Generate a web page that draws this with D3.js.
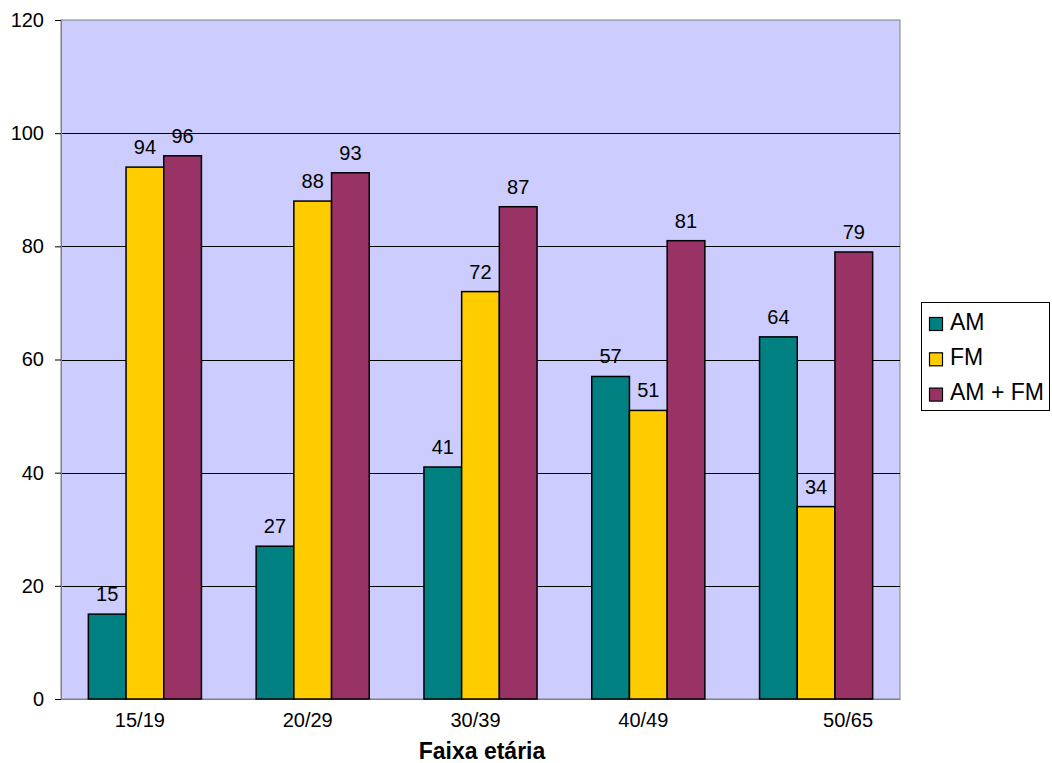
<!DOCTYPE html>
<html>
<head>
<meta charset="utf-8">
<script src="https://cdn.jsdelivr.net/npm/d3@7"></script>
<style>
  body { margin: 0; background: #fff; }
  text { font-family: "Liberation Sans", Arial, sans-serif; }
</style>
</head>
<body>
<div id="chart"></div>
<script>
// data
const categories = ["15/19", "20/29", "30/39", "40/49", "50/65"];
const seriesNames = ["AM", "FM", "AM + FM"];
const amValues = [15, 27, 41, 57, 64];
const fmValues = [94, 88, 72, 51, 34];
const amFmValues = [96, 93, 87, 81, 79];
const yTicks = [0, 20, 40, 60, 80, 100, 120];
const colors = ["#008080", "#FFCC00", "#993366"];

const allSeries = [amValues, fmValues, amFmValues];

const W = 1052, H = 763;
const plot = { left: 61, right: 900, top: 20, bottom: 699 };

const svg = d3.select("#chart")
  .append("svg")
  .attr("width", W)
  .attr("height", H);

const x = d3.scaleBand()
  .domain(categories)
  .range([plot.left, plot.right])
  .padding(0);

const bw = x.bandwidth();
const xSub = d3.scaleBand()
  .domain(seriesNames)
  .range([bw * 0.163, bw * 0.837])
  .padding(0);

const y = d3.scaleLinear()
  .domain([0, 120])
  .range([plot.bottom, plot.top]);

// plot background
svg.append("rect")
  .attr("x", plot.left)
  .attr("y", plot.top)
  .attr("width", plot.right - plot.left)
  .attr("height", plot.bottom - plot.top)
  .attr("fill", "#CCCCFF")
  .attr("stroke", "#808080")
  .attr("stroke-width", 1);

// grid lines
svg.append("g")
  .selectAll("line")
  .data(yTicks.filter(d => d > 0 && d < 120))
  .join("line")
  .attr("x1", plot.left)
  .attr("x2", plot.right)
  .attr("y1", d => Math.round(y(d)) + 0.5)
  .attr("y2", d => Math.round(y(d)) + 0.5)
  .attr("stroke", "#000")
  .attr("stroke-width", 1);

// y axis
const yAxis = svg.append("g")
  .attr("transform", `translate(${plot.left},0)`)
  .call(d3.axisLeft(y).tickValues(yTicks).tickSize(6).tickPadding(11));
yAxis.select(".domain").attr("stroke", "#808080");
yAxis.selectAll(".tick line").attr("stroke", "#000");
yAxis.selectAll(".tick text")
  .style("font-size", "20px")
  .attr("fill", "#000");

// x axis
const xAxis = svg.append("g")
  .attr("transform", `translate(0,${plot.bottom})`)
  .call(d3.axisBottom(x).tickSize(0).tickPadding(14));
xAxis.select(".domain").attr("stroke", "#808080");
xAxis.selectAll(".tick text")
  .style("font-size", "20px")
  .attr("fill", "#000")
  .attr("dx", (d, i) => (i === categories.length - 1 ? 32 : -5));

// bars
const rows = categories.map((c, i) => ({
  cat: c,
  vals: seriesNames.map((s, j) => ({ key: s, value: allSeries[j][i], idx: j }))
}));

const groups = svg.append("g")
  .selectAll("g")
  .data(rows)
  .join("g")
  .attr("transform", d => `translate(${x(d.cat)},0)`);

groups.selectAll("rect")
  .data(d => d.vals)
  .join("rect")
  .attr("x", d => xSub(d.key))
  .attr("y", d => y(d.value))
  .attr("width", xSub.bandwidth())
  .attr("height", d => y(0) - y(d.value))
  .attr("fill", d => colors[d.idx])
  .attr("stroke", "#000")
  .attr("stroke-width", 1.5);

groups.selectAll("text")
  .data(d => d.vals)
  .join("text")
  .attr("x", d => xSub(d.key) + xSub.bandwidth() / 2)
  .attr("y", d => y(d.value) - 13)
  .attr("text-anchor", "middle")
  .style("font-size", "20px")
  .attr("fill", "#000")
  .text(d => d.value);

// x axis title
svg.append("text")
  .attr("x", 482)
  .attr("y", 759)
  .attr("text-anchor", "middle")
  .style("font-size", "23px")
  .style("font-weight", "bold")
  .text("Faixa etária");

// legend
const legend = svg.append("g");
legend.append("rect")
  .attr("x", 921.5)
  .attr("y", 302.5)
  .attr("width", 128)
  .attr("height", 108)
  .attr("fill", "#fff")
  .attr("stroke", "#000")
  .attr("stroke-width", 1);

const items = legend.selectAll("g")
  .data(seriesNames)
  .join("g")
  .attr("transform", (d, i) => `translate(929.5,${324 + i * 35.3})`);

items.append("rect")
  .attr("x", 0)
  .attr("y", -6.5)
  .attr("width", 13)
  .attr("height", 13)
  .attr("fill", (d, i) => colors[i])
  .attr("stroke", "#000")
  .attr("stroke-width", 1.2);

items.append("text")
  .attr("x", 20.5)
  .attr("y", 5.5)
  .style("font-size", "23px")
  .attr("fill", "#000")
  .text(d => d);
</script>
</body>
</html>
